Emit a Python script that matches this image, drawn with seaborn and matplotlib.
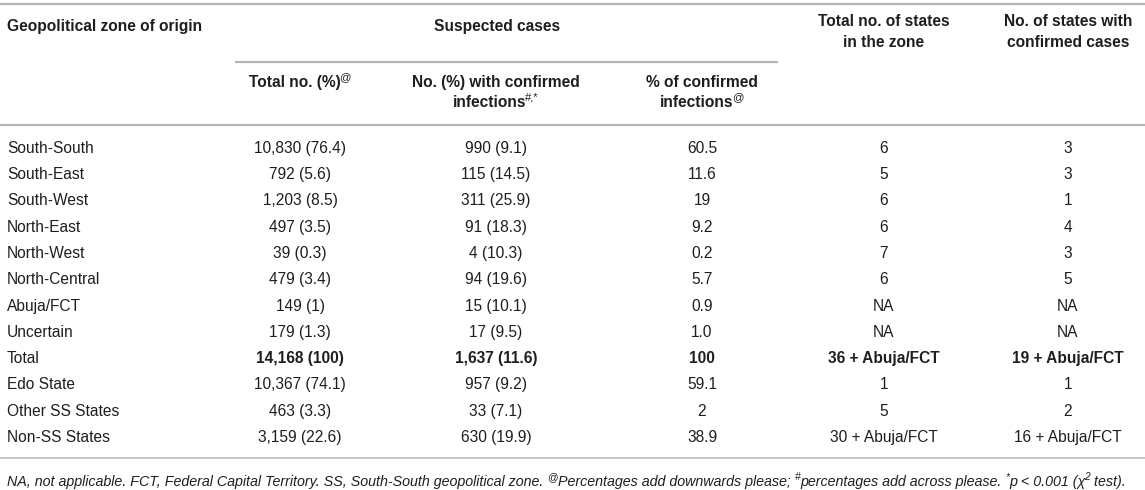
"""
Suspected / confirmed cases by geopolitical zone of origin - table figure.
"""
import matplotlib
matplotlib.use('Agg')
import matplotlib.pyplot as plt
import seaborn as sns

sns.set_theme(style='white')
plt.rcParams['font.family'] = ['Liberation Sans', 'DejaVu Sans']

# ── DATA ─────────────────────────────────────────────
zones = ['South-South', 'South-East', 'South-West', 'North-East', 'North-West',
         'North-Central', 'Abuja/FCT', 'Uncertain', 'Total', 'Edo State',
         'Other SS States', 'Non-SS States']
total_no = ['10,830 (76.4)', '792 (5.6)', '1,203 (8.5)', '497 (3.5)', '39 (0.3)',
            '479 (3.4)', '149 (1)', '179 (1.3)', '14,168 (100)', '10,367 (74.1)',
            '463 (3.3)', '3,159 (22.6)']
confirmed_no = ['990 (9.1)', '115 (14.5)', '311 (25.9)', '91 (18.3)', '4 (10.3)',
                '94 (19.6)', '15 (10.1)', '17 (9.5)', '1,637 (11.6)', '957 (9.2)',
                '33 (7.1)', '630 (19.9)']
confirmed_pct = ['60.5', '11.6', '19', '9.2', '0.2', '5.7', '0.9', '1.0', '100',
                 '59.1', '2', '38.9']
states_total = ['6', '5', '6', '6', '7', '6', 'NA', 'NA', '36 + Abuja/FCT', '1', '5',
                '30 + Abuja/FCT']
states_confirmed = ['3', '3', '1', '4', '3', '5', 'NA', 'NA', '19 + Abuja/FCT', '1', '2',
                    '16 + Abuja/FCT']
bold_rows = ['Total']

footnote = [('NA, not applicable. FCT, Federal Capital Territory. SS, South-South '
             'geopolitical zone. ', False), ('@', True),
            ('Percentages add downwards please; ', False), ('#', True),
            ('percentages add across please. ', False), ('*', True),
            ('p < 0.001 (\u03c7', False), ('2', True), (' test).', False)]

# ── LAYOUT ───────────────────────────────────────────
W, H = 1145, 490
FS = 11.2
TXT = '#1e1e1e'
LINE = '#b4b4b4'
col_x = [300, 496, 702, 884, 1068]
row_y0, row_dy = 147, 26.3

fig = plt.figure(figsize=(W / 100, H / 100), dpi=100)
ax = fig.add_axes([0, 0, 1, 1])
ax.set_xlim(0, W)
ax.set_ylim(H, 0)
ax.axis('off')
renderer = fig.canvas.get_renderer()


def put(x, yc, parts, ha='center', size=FS, weight='normal', style='normal'):
    """Lay out text chunks (text, is_superscript) on one line around centre y."""
    base = yc + 0.37 * size * 100 / 72
    drawn = []
    total = 0
    prev = ''
    for txt, sup in parts:
        t = ax.text(0, base - (0.42 * size * 100 / 72 if sup else 0), txt,
                    fontsize=size * 0.72 if sup else size,
                    fontweight='normal' if sup else weight, fontstyle=style,
                    color=TXT, ha='left', va='baseline')
        w = t.get_window_extent(renderer).width
        # tuck superscripts against a preceding word
        kern = -1.5 if (sup and prev and not prev.endswith(' ')) else 0
        drawn.append((t, w, kern))
        total += w + kern
        prev = txt
    cur = x if ha == 'left' else x - total / 2
    for t, w, kern in drawn:
        cur += kern
        t.set_x(cur)
        cur += w


# rules
ax.plot([0, W], [4, 4], color=LINE, lw=1.6, solid_capstyle='butt')
ax.plot([235, 778], [62, 62], color=LINE, lw=1.6, solid_capstyle='butt')
ax.plot([0, W], [125, 125], color=LINE, lw=1.6, solid_capstyle='butt')
ax.plot([0, W], [458, 458], color=LINE, lw=1.1, solid_capstyle='butt')

# header
put(7, 25, [('Geopolitical zone of origin', False)], ha='left', weight='bold')
put(497, 25, [('Suspected cases', False)], weight='bold')
put(col_x[3], 20, [('Total no. of states', False)], weight='bold')
put(col_x[3], 41, [('in the zone', False)], weight='bold')
put(col_x[4], 20, [('No. of states with', False)], weight='bold')
put(col_x[4], 41, [('confirmed cases', False)], weight='bold')
put(col_x[0], 81, [('Total no. (%)', False), ('@', True)], weight='bold')
put(col_x[1], 81, [('No. (%) with confirmed', False)], weight='bold')
put(col_x[1], 101, [('infections', False), ('#,*', True)], weight='bold')
put(col_x[2], 81, [('% of confirmed', False)], weight='bold')
put(col_x[2], 101, [('infections', False), ('@', True)], weight='bold')

# body
columns = [total_no, confirmed_no, confirmed_pct, states_total, states_confirmed]
for i, zone in enumerate(zones):
    y = row_y0 + i * row_dy
    put(7, y, [(zone, False)], ha='left')
    wt = 'bold' if zone in bold_rows else 'normal'
    for cx, col in zip(col_x, columns):
        put(cx, y, [(col[i], False)], weight=wt)

# footnote
put(7, 481, footnote, ha='left', style='italic', size=10.3)

fig.savefig('out.png', dpi=100, facecolor='white')
